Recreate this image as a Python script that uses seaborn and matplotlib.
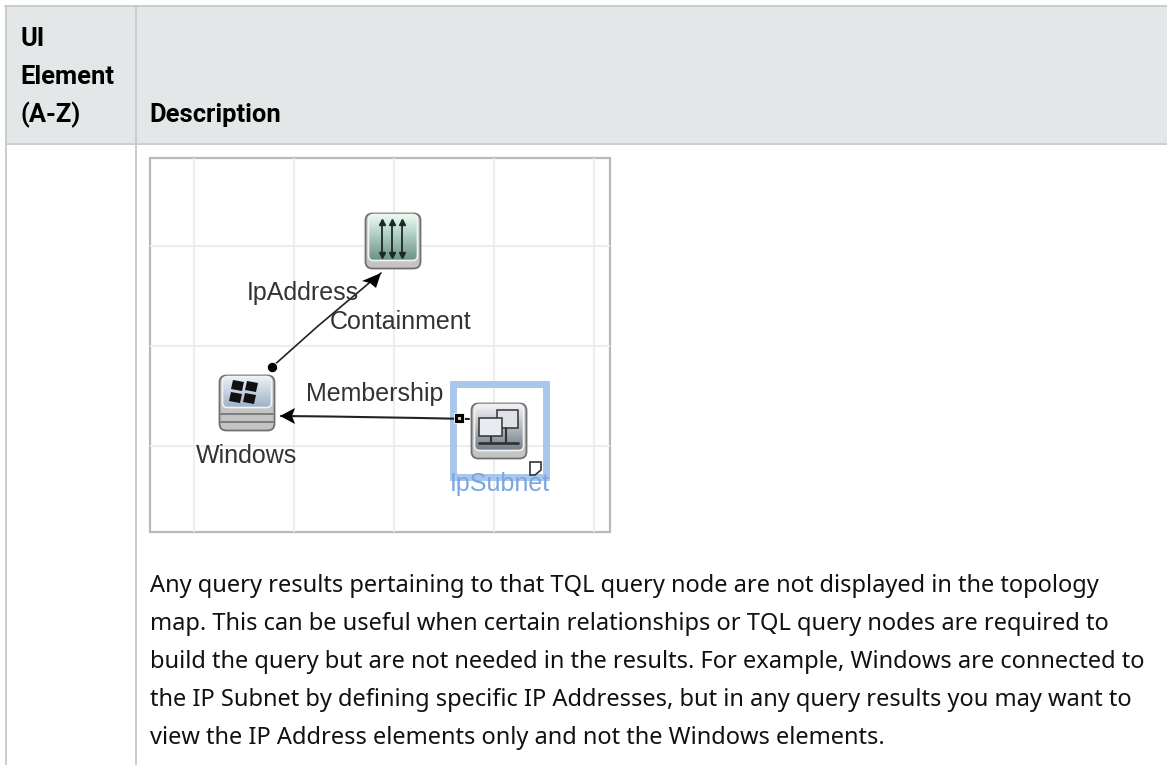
import numpy as np
import matplotlib
matplotlib.use('Agg')
import matplotlib.pyplot as plt
from matplotlib.patches import FancyBboxPatch, Rectangle, Polygon
import seaborn as sns

# text of the table
header_left = ['UI', 'Element', '(A-Z)']
header_right = 'Description'
body_lines = [
    'Any query results pertaining to that TQL query node are not displayed in the topology',
    'map. This can be useful when certain relationships or TQL query nodes are required to',
    'build the query but are not needed in the results. For example, Windows are connected to',
    'the IP Subnet by defining specific IP Addresses, but in any query results you may want to',
    'view the IP Address elements only and not the Windows elements.',
]

# diagram, in pixels of the picture
grid_x = [194, 294, 394, 494, 594]
grid_y = [246, 346, 446]
containment_x = [272, 318, 381]
containment_y = [367, 326, 273]
membership_x = [281, 329, 329, 421, 421, 469]
membership_y = [416, 416, 417, 417, 419, 419]
port_x = [459]
port_y = [418]
node_x = [393, 247, 499]
node_y = [241, 403, 431]
edge_labels = ['IpAddress', 'Containment', 'Membership', 'Windows', 'IpSubnet']
edge_label_x = [303, 401, 375, 247, 500]
edge_label_y = [293, 322, 394, 456, 484]
edge_label_col = ['#333333', '#333333', '#333333', '#333333', '#7aa6e2']

sns.set_theme(style='white')
plt.rcParams['font.family'] = ['Noto Sans', 'DejaVu Sans']

fig = plt.figure(figsize=(11.67, 7.65), dpi=100)
ax = fig.add_axes([0, 0, 1, 1])
ax.set_xlim(0, 1167)
ax.set_ylim(765, 0)
ax.axis('off')

line_col = '#cccccc'

# table
ax.add_patch(Rectangle((6, 6), 1161, 137, fc='#e4e7e8', ec='none', zorder=1))
ax.plot([5, 1167], [6, 6], color=line_col, lw=1.4, zorder=2)
ax.plot([6, 1167], [144, 144], color=line_col, lw=1.4, zorder=2)
ax.plot([6, 6], [6, 765], color=line_col, lw=1.4, zorder=2)
ax.plot([136, 136], [6, 765], color=line_col, lw=1.4, zorder=2)

for t, y in zip(header_left, [46, 84, 122]):
    ax.text(20, y, t, fontsize=18.4, family='Roboto', fontweight='bold', color='black', va='baseline', ha='left')
ax.text(149, 122, header_right, fontsize=18.4, family='Roboto', fontweight='bold', color='black', va='baseline', ha='left')

for t, y in zip(body_lines, [592, 630, 668, 706, 744]):
    ax.text(150, y, t, fontsize=17, color='#111111', va='baseline', ha='left')

# diagram background
ax.add_patch(Rectangle((150, 158), 460, 374, fc='white', ec='#b9b9b9', lw=1.6, zorder=2))
for gx in grid_x:
    ax.plot([gx, gx], [159, 531], color='#eeeeee', lw=1.5, zorder=2.1)
for gy in grid_y:
    ax.plot([151, 609], [gy, gy], color='#eeeeee', lw=1.5, zorder=2.1)

# selection frame round IpSubnet
ax.add_patch(Rectangle((452.5, 384), 93, 93, fc='none', ec='#a9c7ea', lw=5, zorder=3))

# edges
sns.lineplot(x=containment_x, y=containment_y, color='#222222', lw=1.2, sort=False, ax=ax, zorder=4)
sns.lineplot(x=membership_x, y=membership_y, color='#222222', lw=1.5, sort=False, ax=ax, zorder=4)
sns.scatterplot(x=containment_x[:1], y=containment_y[:1], color='black', s=55, marker='o', ax=ax, zorder=5)
sns.scatterplot(x=port_x, y=port_y, color='black', s=60, marker='s', ax=ax, zorder=5)
ax.add_patch(Rectangle((457.5, 416.5), 3, 3, fc='#cccccc', ec='none', zorder=6))
ax.add_patch(Polygon([[381, 273], [376, 288], [370, 283], [362, 281]], fc='black', ec='none', zorder=5))
ax.add_patch(Polygon([[280, 416], [295, 408], [292, 416], [295, 424]], fc='black', ec='none', zorder=5))


def draw_icon(cx, cy, face_h, top, bottom):
    # grey rounded base with a lighter gradient face on top
    base = FancyBboxPatch((cx - 25, cy - 25), 50, 50, boxstyle='round,pad=2.5,rounding_size=7',
                          fc='#c4c4c4', ec='#707070', lw=1.3, zorder=6)
    ax.add_patch(base)
    ramp = np.linspace(0, 1, 64)[:, None, None]
    img = (1 - ramp) * np.array(top) + ramp * np.array(bottom)
    face = FancyBboxPatch((cx - 23, cy - 25), 46, face_h, boxstyle='round,pad=1.5,rounding_size=5',
                          fc='none', ec='#f2f2f2', lw=1.2, zorder=8)
    ax.add_patch(face)
    im = ax.imshow(img, extent=(cx - 24, cx + 24, cy - 25 + face_h + 1, cy - 26), aspect='auto',
                   zorder=7, interpolation='bilinear')
    im.set_clip_path(face)


# address icon
draw_icon(node_x[0], node_y[0], 43, (0.91, 0.98, 0.94), (0.42, 0.58, 0.53))
for ax_x in (381.7, 391.7, 402.3):
    ax.plot([ax_x, ax_x], [221, 256], color='#1c2a26', lw=1.3, zorder=9)
    ax.plot([ax_x], [222], marker='^', ms=4, color='#1c2a26', zorder=9)
    ax.plot([ax_x], [255], marker='v', ms=4, color='#1c2a26', zorder=9)

# windows icon
draw_icon(node_x[1], node_y[1], 28, (0.92, 0.94, 0.96), (0.62, 0.70, 0.78))
for ly in (413.5, 422):
    ax.plot([221, 273], [ly, ly], color='#777777', lw=1.3, zorder=9)
for sx, sy in [(238, 385), (252, 386), (236, 397), (250, 398)]:
    ax.add_patch(Polygon([[sx - 5, sy - 5], [sx + 6, sy - 3], [sx + 4, sy + 6], [sx - 7, sy + 4]],
                         fc='#111111', ec='none', zorder=9))

# subnet icon
draw_icon(node_x[2], node_y[2], 43, (0.95, 0.95, 0.96), (0.45, 0.50, 0.55))
ax.add_patch(Rectangle((497, 410), 21, 18, fc='#dfe3e8', ec='#333333', lw=1.1, zorder=9))
ax.add_patch(Rectangle((479, 418), 22.5, 18, fc='#e8ebef', ec='#333333', lw=1.1, zorder=10))
ax.plot([479, 518], [443, 443], color='#333333', lw=2, zorder=9)
ax.plot([491, 491], [436, 443], color='#333333', lw=1.5, zorder=9)
ax.plot([506, 506], [428, 443], color='#333333', lw=1.5, zorder=9)
ax.add_patch(Polygon([[530, 462], [541, 462], [541, 470], [535, 475], [530, 475]],
                     fc='white', ec='#333333', lw=1.2, zorder=9))

for t, x, y, c in zip(edge_labels, edge_label_x, edge_label_y, edge_label_col):
    ax.text(x, y, t, fontsize=18, family='Liberation Sans', color=c, ha='center', va='center', zorder=11)

ax.set_xlim(0, 1167)
ax.set_ylim(765, 0)
fig.savefig('out.png', dpi=100)
